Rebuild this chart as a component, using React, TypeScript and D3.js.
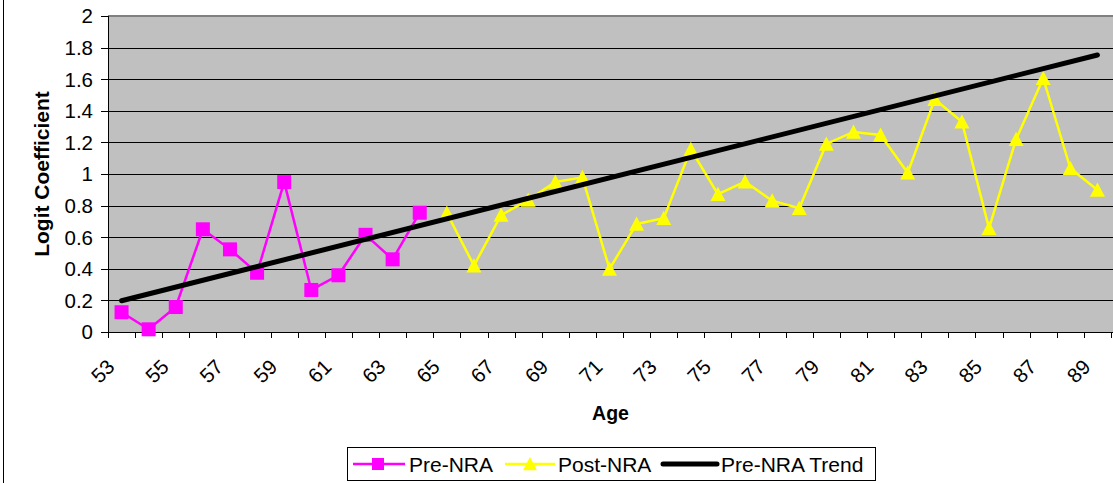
import React from "react";
import * as d3 from "d3";

const ages: string[] = ["53","54","55","56","57","58","59","60","61","62","63","64","65","66","67","68","69","70","71","72","73","74","75","76","77","78","79","80","81","82","83","84","85","86","87","88","89"];
const labeledAges: string[] = ["53","55","57","59","61","63","65","67","69","71","73","75","77","79","81","83","85","87","89"];
const preAges: string[] = ["53","54","55","56","57","58","59","60","61","62","63","64"];
const preValues: number[] = [0.125, 0.017, 0.158, 0.65, 0.523, 0.375, 0.949, 0.266, 0.359, 0.615, 0.46, 0.755];
const postAges: string[] = ["65","66","67","68","69","70","71","72","73","74","75","76","77","78","79","80","81","82","83","84","85","86","87","88","89"];
const postValues: number[] = [0.753, 0.42, 0.74, 0.835, 0.95, 0.979, 0.399, 0.684, 0.72, 1.156, 0.872, 0.951, 0.831, 0.783, 1.19, 1.266, 1.247, 1.008, 1.473, 1.331, 0.656, 1.22, 1.606, 1.036, 0.899];
const trendAges: string[] = ["53", "89"];
const trendValues: number[] = [0.198, 1.753];
const yTicks: number[] = [0, 0.2, 0.4, 0.6, 0.8, 1, 1.2, 1.4, 1.6, 1.8, 2];

const FONT = "Arial, 'Liberation Sans', sans-serif";

export default function App() {
  const W = 1113, H = 483;
  const left = 108, right = 1111, top = 16, bottom = 332;
  const x = d3.scaleBand<string>().domain(ages).range([left, right]).padding(0);
  const bw = x.bandwidth();
  const cx = (a: string) => (x(a) as number) + bw / 2;
  const y = d3.scaleLinear().domain([0, 2]).range([bottom, top]);

  const line = d3.line<[string, number]>().x(d => cx(d[0])).y(d => y(d[1]));
  const prePts = preAges.map((a, i) => [a, preValues[i]] as [string, number]);
  const postPts = postAges.map((a, i) => [a, postValues[i]] as [string, number]);
  const trendPts = trendAges.map((a, i) => [a, trendValues[i]] as [string, number]);

  const tri = (px: number, py: number, s = 7.5) =>
    `M${px},${py - s} L${px + s},${py + s * 0.9} L${px - s},${py + s * 0.9} Z`;

  const boundaries = d3.range(ages.length + 1).map(i => left + i * bw);

  return (
    <svg width={W} height={H} style={{ position: "absolute", left: 0, top: 0, background: "#fff" }} fontFamily={FONT}>
      <line x1={3.5} x2={3.5} y1={0} y2={H} stroke="#000" strokeWidth={1} />
      <rect x={left} y={top} width={right - left + 2} height={bottom - top} fill="#C0C0C0" />
      {yTicks.map(t => (
        <line key={"g" + t} x1={left} x2={W} y1={Math.round(y(t)) + 0.5} y2={Math.round(y(t)) + 0.5} stroke="#000" strokeWidth={1} />
      ))}
      <line x1={left} x2={W} y1={top} y2={top} stroke="#808080" strokeWidth={2} />
      <line x1={left + 0.5} x2={left + 0.5} y1={top} y2={bottom} stroke="#000" strokeWidth={1} />
      <line x1={left} x2={W} y1={bottom + 0.5} y2={bottom + 0.5} stroke="#000" strokeWidth={1} />
      {yTicks.map(t => (
        <g key={"yt" + t}>
          <line x1={101} x2={left} y1={Math.round(y(t)) + 0.5} y2={Math.round(y(t)) + 0.5} stroke="#000" />
          <text x={93} y={y(t)} dy="0.36em" textAnchor="end" fontSize={20.5} fill="#000">{String(t)}</text>
        </g>
      ))}
      {boundaries.map((b, i) => (
        <line key={"xt" + i} x1={Math.round(b) + 0.5} x2={Math.round(b) + 0.5} y1={bottom} y2={bottom + 6} stroke="#000" />
      ))}
      {labeledAges.map(a => (
        <text key={"xl" + a} transform={`translate(${cx(a) - 19},${371}) rotate(-45)`} textAnchor="middle" dy="0.36em" fontSize={20.5} fill="#000">{a}</text>
      ))}
      <text x={(left + right) / 2 + 1} y={420} textAnchor="middle" fontSize={19.5} fontWeight="bold" fill="#000">Age</text>
      <text transform={`translate(49,${(top + bottom) / 2}) rotate(-90)`} textAnchor="middle" fontSize={21} fontWeight="bold" fill="#000">Logit Coefficient</text>

      <path d={line(prePts) || ""} fill="none" stroke="#FF00FF" strokeWidth={2.5} />
      {prePts.map(p => (
        <rect key={"pm" + p[0]} x={cx(p[0]) - 7} y={y(p[1]) - 7} width={14} height={14} fill="#FF00FF" />
      ))}
      <path d={line(postPts) || ""} fill="none" stroke="#FFFF00" strokeWidth={2.5} />
      {postPts.map(p => (
        <path key={"qm" + p[0]} d={tri(cx(p[0]), y(p[1]))} fill="#FFFF00" />
      ))}
      <path d={line(trendPts) || ""} fill="none" stroke="#000" strokeWidth={5} strokeLinecap="round" />

      <rect x={347.5} y={447.5} width={528} height={33} fill="#fff" stroke="#000" strokeWidth={1} />
      <line x1={353} x2={405} y1={464} y2={464} stroke="#FF00FF" strokeWidth={2.5} />
      <rect x={372} y={458} width={12} height={12} fill="#FF00FF" />
      <text x={409} y={464} dy="0.36em" fontSize={21} fill="#000">Pre-NRA</text>
      <line x1={505} x2={555} y1={464} y2={464} stroke="#FFFF00" strokeWidth={2.5} />
      <path d={tri(530, 464, 7)} fill="#FFFF00" />
      <text x={558} y={464} dy="0.36em" fontSize={21} fill="#000">Post-NRA</text>
      <line x1={663} x2={717} y1={464} y2={464} stroke="#000" strokeWidth={5} strokeLinecap="round" />
      <text x={721} y={464} dy="0.36em" fontSize={21} fill="#000">Pre-NRA Trend</text>
    </svg>
  );
}
